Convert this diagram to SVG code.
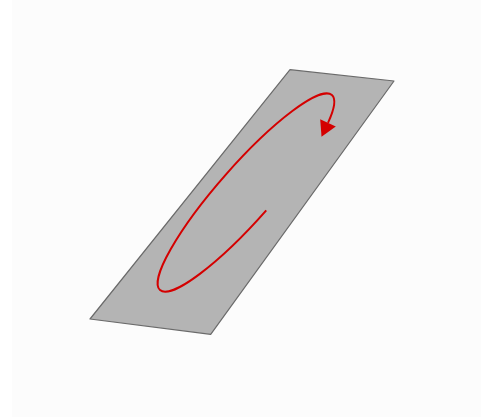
<svg xmlns="http://www.w3.org/2000/svg" width="481" height="417" viewBox="0 0 481 417">
  <style>
    .plane { fill: #b4b4b4; stroke: #6a6a6a; stroke-width: 1.2; stroke-linejoin: round; }
    .spin { fill: none; stroke: #d40000; stroke-width: 2; }
  </style>
  <defs>
    <marker id="arrow" markerUnits="userSpaceOnUse" markerWidth="20" markerHeight="20" viewBox="0 -10 18 20" refX="0" refY="0" orient="auto">
      <path d="M0,-8.6 L15.4,0 L0,8.6 Z" fill="#d40000"/>
    </marker>
  </defs>
  <rect x="0" y="0" width="481" height="417" fill="#fcfcfc"/>
  <rect x="0" y="0" width="12" height="417" fill="#ffffff"/>
  <g id="plane">
    <polygon class="plane" points="290,69.7 394,81 210.7,334.3 90,319"/>
  </g>
  <g id="connectors">
    <path class="spin" d="M266.25,210.35 A130 27 -48.6 1 1 331.9,95 A130 27 -48.6 0 1 328,122.8" marker-end="url(#arrow)"/>
  </g>
</svg>
